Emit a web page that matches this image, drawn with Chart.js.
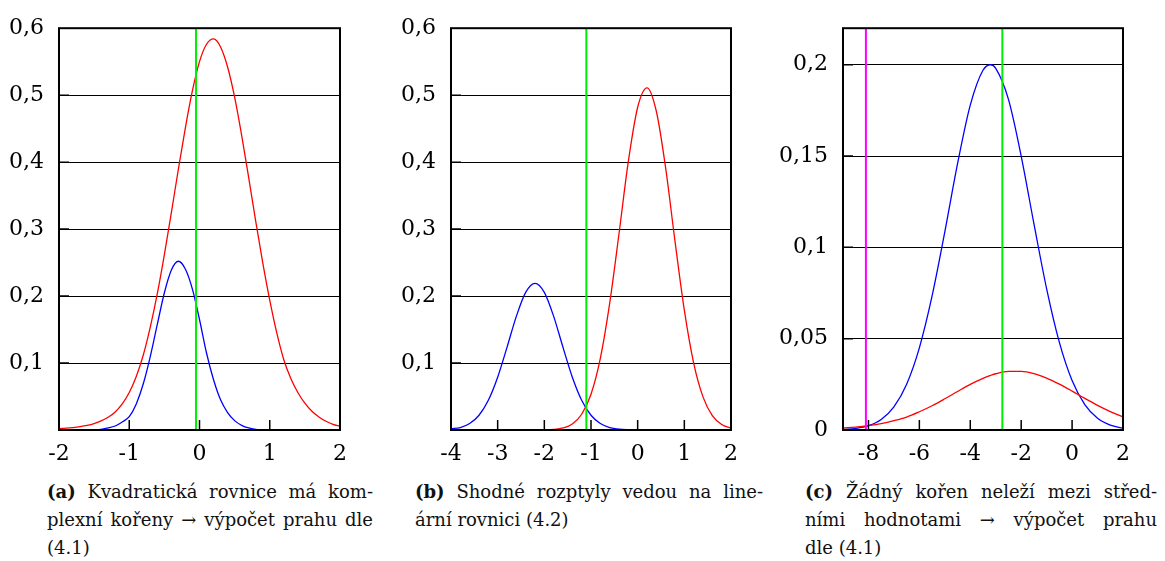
<!DOCTYPE html>
<html>
<head>
<meta charset="utf-8">
<script src="https://cdn.jsdelivr.net/npm/chart.js@4.4.1/dist/chart.umd.min.js"></script>
<style>
  html, body { margin: 0; padding: 0; background: #fff; }
  body { width: 1165px; height: 561px; position: relative; overflow: hidden; font-family: "DejaVu Serif", serif; }
  .box { position: absolute; top: 0; height: 470px; }
  .cap { position: absolute; top: 478px; font-size: 18px; line-height: 28px; color: #111; }
  .cap div { text-align: justify; text-align-last: justify; }
  .cap div.last { text-align: left; text-align-last: left; }
</style>
</head>
<body>
<div class="box" style="left:0px;width:350px"><canvas id="chartA"></canvas></div>
<div class="box" style="left:391px;width:350px"><canvas id="chartB"></canvas></div>
<div class="box" style="left:770px;width:363px"><canvas id="chartC"></canvas></div>

<div class="cap" style="left:47px;width:326px">
  <div><b>(a)</b> Kvadratická rovnice má kom-</div>
  <div>plexní kořeny → výpočet prahu dle</div>
  <div class="last">(4.1)</div>
</div>
<div class="cap" style="left:415px;width:348px">
  <div><b>(b)</b> Shodné rozptyly vedou na line-</div>
  <div class="last">ární rovnici (4.2)</div>
</div>
<div class="cap" style="left:805px;width:352px">
  <div><b>(c)</b> Žádný kořen neleží mezi střed-</div>
  <div>ními hodnotami → výpočet prahu</div>
  <div class="last">dle (4.1)</div>
</div>

<script>
// (a) complex roots
const xA = [-2.0, -1.9, -1.8, -1.7, -1.6, -1.5, -1.4, -1.3, -1.2, -1.1, -1.0, -0.9, -0.8, -0.7, -0.6, -0.5, -0.4, -0.3, -0.2, -0.1,
            0.0, 0.1, 0.2, 0.3, 0.4, 0.5, 0.6, 0.7, 0.8, 0.9, 1.0, 1.1, 1.2, 1.3, 1.4, 1.5, 1.6, 1.7, 1.8, 1.9, 2.0];
const redA = [0.002, 0.0027, 0.0037, 0.0051, 0.007, 0.0097, 0.0135, 0.019, 0.027, 0.039, 0.056, 0.080, 0.112, 0.154, 0.204, 0.262, 0.325, 0.390, 0.452, 0.507,
              0.550, 0.576, 0.584, 0.572, 0.542, 0.497, 0.440, 0.377, 0.312, 0.250, 0.194, 0.145, 0.105, 0.077, 0.056, 0.040, 0.028, 0.0195, 0.013, 0.0085, 0.0055];
const blueA = [0, 0, 0, 0, 0, 0.0002, 0.001, 0.003, 0.006, 0.012, 0.020, 0.039, 0.069, 0.110, 0.158, 0.205, 0.239, 0.252, 0.240, 0.210,
               0.165, 0.115, 0.075, 0.045, 0.026, 0.014, 0.007, 0.003, 0.001, 0, 0, 0, 0, 0, 0, 0, 0, 0, 0, 0, 0];
const thresholdsA = [-0.05];
const xTicksA = [-2, -1, 0, 1, 2];
const yTicksA = [0.1, 0.2, 0.3, 0.4, 0.5, 0.6];

// (b) equal variances
const xB = [-4.0, -3.8, -3.6, -3.4, -3.2, -3.0, -2.8, -2.6, -2.4, -2.2, -2.0, -1.8, -1.6, -1.4, -1.2, -1.0,
            -0.8, -0.6, -0.4, -0.2, 0.0, 0.2, 0.4, 0.6, 0.8, 1.0, 1.2, 1.4, 1.6, 1.8, 2.0];
const redB = [0, 0, 0, 0, 0, 0, 0, 0, 0, 0, 0.0002, 0.0009, 0.0031, 0.0091, 0.0235, 0.0534,
              0.107, 0.189, 0.293, 0.401, 0.482, 0.511, 0.476, 0.391, 0.282, 0.179, 0.100, 0.0495, 0.0214, 0.0082, 0.0027];
const blueB = [0.002, 0.0037, 0.0096, 0.022, 0.0444, 0.0789, 0.1234, 0.1697, 0.2055, 0.219, 0.2055, 0.1697, 0.1234, 0.0789, 0.0444, 0.022,
               0.0096, 0.0037, 0.0012, 0.0003, 0, 0, 0, 0, 0, 0, 0, 0, 0, 0, 0];
const thresholdsB = [-1.1];
const xTicksB = [-4, -3, -2, -1, 0, 1, 2];
const yTicksB = [0.1, 0.2, 0.3, 0.4, 0.5, 0.6];

// (c) no root between means
const xC = [-9, -8.5, -8, -7.5, -7, -6.5, -6, -5.5, -5, -4.5, -4, -3.5, -3.2, -3, -2.5, -2, -1.5, -1, -0.5, 0, 0.5, 1, 1.5, 2];
const redC = [0.0011, 0.0016, 0.0024, 0.0035, 0.0051, 0.0071, 0.0100, 0.0133, 0.0171, 0.0211, 0.0250, 0.0283,
              0.0299, 0.0308, 0.0321, 0.0321, 0.0309, 0.0284, 0.0251, 0.0213, 0.0173, 0.0135, 0.0101, 0.0072];
const blueC = [0.0003, 0.0009, 0.0024, 0.0058, 0.0127, 0.0251, 0.045, 0.0734, 0.1085, 0.1458, 0.1779, 0.197,
               0.200, 0.198, 0.181, 0.150, 0.113, 0.0773, 0.048, 0.0271, 0.0139, 0.0064, 0.0027, 0.0010];
const thresholdsC = [-2.74];
const boundC = [-8.1];
const xTicksC = [-8, -6, -4, -2, 0, 2];
const yTicksC = [0, 0.05, 0.1, 0.15, 0.2];

const tickFont = { family: "'DejaVu Serif'", size: 22 };

function pts(xs, ys) {
    return xs.map((x, i) => ({ x: x, y: ys[i] }));
}

// box around plot area + short inner tick marks
const framePlugin = {
    id: 'frame',
    afterDatasetsDraw(chart) {
        const { ctx, chartArea: a, scales: { x, y } } = chart;
        ctx.save();
        ctx.strokeStyle = '#000';
        ctx.lineWidth = 1.5;
        ctx.beginPath();
        x.ticks.forEach(t => {
            if (t.value <= x.min || t.value >= x.max) return;
            const px = x.getPixelForValue(t.value);
            ctx.moveTo(px, a.bottom);
            ctx.lineTo(px, a.bottom - 10);
        });
        y.ticks.forEach(t => {
            if (t.value <= y.min || t.value >= y.max) return;
            const py = y.getPixelForValue(t.value);
            ctx.moveTo(a.left, py);
            ctx.lineTo(a.left + 10, py);
        });
        ctx.stroke();
        ctx.lineWidth = 2;
        ctx.strokeRect(a.left, a.top, a.right - a.left, a.bottom - a.top);
        ctx.restore();
    }
};

function makeChart(id, cfg) {
    const vlines = [];
    cfg.green.forEach(v => vlines.push({ v: v, color: '#00ee00' }));
    (cfg.magenta || []).forEach(v => vlines.push({ v: v, color: '#ff00ff' }));

    const datasets = vlines.map(l => ({
        data: [{ x: l.v, y: cfg.yMin }, { x: l.v, y: cfg.yMax }],
        borderColor: l.color,
        borderWidth: 2,
        order: 0
    }));
    datasets.push({ data: pts(cfg.xs, cfg.red), borderColor: '#ff0000', borderWidth: 1.3, order: 1 });
    datasets.push({ data: pts(cfg.xs, cfg.blue), borderColor: '#0000ff', borderWidth: 1.3, order: 1 });

    return new Chart(document.getElementById(id), {
        type: 'line',
        data: { datasets: datasets },
        plugins: [framePlugin],
        options: {
            animation: false,
            responsive: true,
            maintainAspectRatio: false,
            layout: { padding: { top: 21, right: 10, left: 0, bottom: 0 } },
            elements: {
                point: { radius: 0 },
                line: { cubicInterpolationMode: 'monotone', fill: false }
            },
            plugins: {
                legend: { display: false },
                tooltip: { enabled: false }
            },
            scales: {
                x: {
                    type: 'linear',
                    min: cfg.xMin,
                    max: cfg.xMax,
                    afterBuildTicks: s => { s.ticks = cfg.xTicks.map(v => ({ value: v })); },
                    afterFit: s => { s.height = 40; },
                    grid: { display: false },
                    border: { display: false },
                    ticks: {
                        font: tickFont,
                        color: '#000',
                        padding: 3,
                        autoSkip: false,
                        maxRotation: 0,
                        callback: v => String(v)
                    }
                },
                y: {
                    type: 'linear',
                    min: cfg.yMin,
                    max: cfg.yMax,
                    afterBuildTicks: s => { s.ticks = cfg.yTicks.map(v => ({ value: v })); },
                    afterFit: s => { s.width = cfg.yWidth; },
                    grid: { color: '#000', lineWidth: 1, drawTicks: false },
                    border: { display: false },
                    ticks: {
                        font: tickFont,
                        color: '#000',
                        padding: 15,
                        callback: v => String(v).replace('.', ',')
                    }
                }
            }
        }
    });
}

makeChart('chartA', {
    xs: xA, red: redA, blue: blueA, green: thresholdsA,
    xMin: -2, xMax: 2, yMin: 0, yMax: 0.6,
    xTicks: xTicksA, yTicks: yTicksA, yWidth: 59
});
makeChart('chartB', {
    xs: xB, red: redB, blue: blueB, green: thresholdsB,
    xMin: -4, xMax: 2, yMin: 0, yMax: 0.6,
    xTicks: xTicksB, yTicks: yTicksB, yWidth: 60
});
makeChart('chartC', {
    xs: xC, red: redC, blue: blueC, green: thresholdsC, magenta: boundC,
    xMin: -9, xMax: 2, yMin: 0, yMax: 0.22,
    xTicks: xTicksC, yTicks: yTicksC, yWidth: 73
});
</script>
</body>
</html>
